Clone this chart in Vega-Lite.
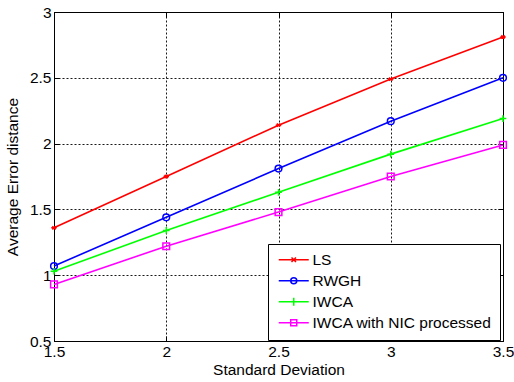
{
  "$schema": "https://vega.github.io/schema/vega-lite/v6.json",
  "width": 449,
  "height": 329,
  "autosize": {"type": "none"},
  "padding": {"left": 54, "top": 12, "right": 11, "bottom": 41},
  "background": "white",
  "config": {
    "font": "Liberation Sans",
    "view": {"stroke": "#000", "strokeWidth": 1},
    "axis": {
      "domainColor": "#000",
      "tickColor": "#000",
      "labelColor": "#000",
      "titleColor": "#000",
      "labelFontSize": 15.5,
      "titleFontSize": 15.5,
      "titleFontWeight": "normal",
      "gridColor": "#000",
      "gridDash": [2, 2],
      "gridOpacity": 0.9,
      "gridWidth": 1,
      "tickSize": -5,
      "labelPadding": 8,
      "labelFlush": false
    },
    "legend": {
      "labelFontSize": 15.5,
      "labelColor": "#000",
      "labelLimit": 400,
      "strokeColor": "#000",
      "fillColor": "white",
      "padding": 8,
      "symbolSize": 100,
      "labelOffset": 21,
      "rowPadding": 4,
      "symbolStrokeWidth": 1.5
    }
  },
  "data": {
    "values": [
      {"x": 1.5, "y": 1.36, "method": "LS"},
      {"x": 2.0, "y": 1.75, "method": "LS"},
      {"x": 2.5, "y": 2.14, "method": "LS"},
      {"x": 3.0, "y": 2.49, "method": "LS"},
      {"x": 3.5, "y": 2.81, "method": "LS"},
      {"x": 1.5, "y": 1.07, "method": "RWGH"},
      {"x": 2.0, "y": 1.44, "method": "RWGH"},
      {"x": 2.5, "y": 1.81, "method": "RWGH"},
      {"x": 3.0, "y": 2.17, "method": "RWGH"},
      {"x": 3.5, "y": 2.5, "method": "RWGH"},
      {"x": 1.5, "y": 1.03, "method": "IWCA"},
      {"x": 2.0, "y": 1.34, "method": "IWCA"},
      {"x": 2.5, "y": 1.63, "method": "IWCA"},
      {"x": 3.0, "y": 1.92, "method": "IWCA"},
      {"x": 3.5, "y": 2.19, "method": "IWCA"},
      {"x": 1.5, "y": 0.93, "method": "IWCA with NIC processed"},
      {"x": 2.0, "y": 1.22, "method": "IWCA with NIC processed"},
      {"x": 2.5, "y": 1.48, "method": "IWCA with NIC processed"},
      {"x": 3.0, "y": 1.75, "method": "IWCA with NIC processed"},
      {"x": 3.5, "y": 1.99, "method": "IWCA with NIC processed"}
    ]
  },
  "encoding": {
    "x": {
      "field": "x", "type": "quantitative",
      "scale": {"domain": [1.5, 3.5], "nice": false, "zero": false},
      "axis": null
    },
    "y": {
      "field": "y", "type": "quantitative",
      "scale": {"domain": [0.5, 3], "nice": false, "zero": false},
      "axis": null
    },
    "color": {
      "field": "method", "type": "nominal",
      "scale": {
        "domain": ["LS", "RWGH", "IWCA", "IWCA with NIC processed"],
        "range": ["#ff0000", "#0000ff", "#00ff00", "#ff00ff"]
      },
      "legend": {
        "title": null,
        "orient": "none",
        "legendX": 214,
        "legendY": 232,
        "encoding": {
          "symbols": {
            "shape": {"value": {"expr": "datum.value === 'LS' ? 'M-1,0H5M1.55,-0.45L2.45,0.45M1.55,0.45L2.45,-0.45M1.4,0H2.6' : datum.value === 'RWGH' ? 'M-1,0H5M2.6,0A0.6,0.6,0,1,1,1.4,0A0.6,0.6,0,1,1,2.6,0' : datum.value === 'IWCA' ? 'M-1,0H5M2,-0.8V0.8' : 'M-1,0H5M1.4,-0.6H2.6V0.6H1.4Z'"}},
            "fill": {"value": "transparent"},
            "size": {"value": 100}
          }
        }
      }
    }
  },
  "layer": [
    {
      "mark": {"type": "line", "strokeWidth": 1.6},
      "encoding": {
        "x": {
          "field": "x", "type": "quantitative",
          "title": "Standard Deviation",
          "axis": {"orient": "bottom", "values": [1.5, 2, 2.5, 3, 3.5], "grid": true, "titlePadding": 3, "labelExpr": "datum.value"}
        },
        "y": {
          "field": "y", "type": "quantitative",
          "title": "Average Error distance",
          "axis": {"orient": "left", "values": [0.5, 1, 1.5, 2, 2.5, 3], "grid": true, "titlePadding": 9, "labelExpr": "datum.value"}
        }
      }
    },
    {
      "transform": [{"filter": {"field": "method", "equal": "LS"}}],
      "mark": {"type": "point", "filled": false, "strokeWidth": 1.5, "size": 30, "opacity": 1, "shape": "M-0.6,-0.6L0.6,0.6M-0.6,0.6L0.6,-0.6M-1,0H1"},
      "encoding": {
        "x": {
          "field": "x", "type": "quantitative",
          "axis": {"orient": "top", "values": [1.5, 2, 2.5, 3, 3.5], "labels": false, "grid": false, "domain": false, "title": null}
        },
        "y": {
          "field": "y", "type": "quantitative",
          "axis": {"orient": "right", "values": [0.5, 1, 1.5, 2, 2.5, 3], "labels": false, "grid": false, "domain": false, "title": null}
        }
      }
    },
    {
      "transform": [{"filter": {"field": "method", "equal": "RWGH"}}],
      "mark": {"type": "point", "filled": false, "strokeWidth": 1.5, "size": 45, "opacity": 1, "shape": "circle"}
    },
    {
      "transform": [{"filter": {"field": "method", "equal": "IWCA"}}],
      "mark": {"type": "point", "filled": false, "strokeWidth": 1.5, "size": 45, "opacity": 1, "shape": "M-1,0H1M0,-1V1"}
    },
    {
      "transform": [{"filter": {"field": "method", "equal": "IWCA with NIC processed"}}],
      "mark": {"type": "point", "filled": false, "strokeWidth": 1.5, "size": 45, "opacity": 1, "shape": "square"}
    }
  ]
}
